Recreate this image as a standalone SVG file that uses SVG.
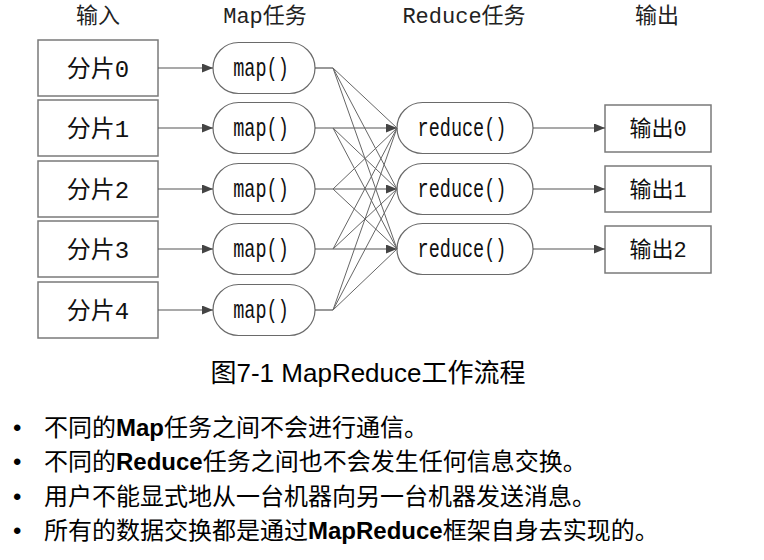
<svg xmlns="http://www.w3.org/2000/svg" width="764" height="560" viewBox="0 0 764 560">
<style>
.box{fill:#fff;stroke:#7a7a7a;stroke-width:1.5}
.pill{fill:#fff;stroke:#6a6a6a;stroke-width:1.2}
.hd{font-family:"Liberation Mono","Noto Sans CJK SC",monospace;font-size:22px;fill:#222;text-anchor:middle}
.lb{font-family:"Liberation Mono","Noto Sans CJK SC",monospace;font-size:24px;fill:#111;text-anchor:middle}
.ob{font-family:"Liberation Mono","Noto Sans CJK SC",monospace;font-size:22px;fill:#111;text-anchor:middle}
.fn{font-family:"Liberation Mono",monospace;font-size:18.5px;fill:#111;text-anchor:middle}
.ln{stroke:#555;stroke-width:1.2;fill:none}
.fan{stroke:#666;stroke-width:1;fill:none}
.cap{font-family:"Liberation Sans","Noto Sans CJK SC",sans-serif;font-size:26px;fill:#000;text-anchor:middle}
.bl{font-family:"Liberation Sans","Noto Sans CJK SC",sans-serif;font-size:24px;fill:#000}
.b{font-weight:bold}
</style>
<defs>
<marker id="ah" markerUnits="userSpaceOnUse" markerWidth="11" markerHeight="9" refX="11" refY="4.5" orient="auto">
<path d="M0,0 L11,4.5 L0,9 z" fill="#444"/>
</marker>
</defs>

<g id="headers">
<text class="hd" x="98" y="23">输入</text>
<text class="hd" x="265" y="23">Map任务</text>
<text class="hd" x="464" y="23">Reduce任务</text>
<text class="hd" x="657" y="23">输出</text>
</g>

<g id="in0"><rect class="box" x="38" y="40" width="120" height="56"/><text class="lb" x="98" y="77">分片0</text></g>
<g id="in1"><rect class="box" x="38" y="100" width="120" height="56"/><text class="lb" x="98" y="137">分片1</text></g>
<g id="in2"><rect class="box" x="38" y="161" width="120" height="56"/><text class="lb" x="98" y="198">分片2</text></g>
<g id="in3"><rect class="box" x="38" y="221" width="120" height="56"/><text class="lb" x="98" y="258">分片3</text></g>
<g id="in4"><rect class="box" x="38" y="282" width="120" height="56"/><text class="lb" x="98" y="319">分片4</text></g>

<g id="map0"><rect class="pill" x="213" y="42.5" width="102" height="51" rx="25.5"/><text class="fn" transform="translate(261,76) scale(1,1.35)">map()</text></g>
<g id="map1"><rect class="pill" x="213" y="102.5" width="102" height="51" rx="25.5"/><text class="fn" transform="translate(261,136) scale(1,1.35)">map()</text></g>
<g id="map2"><rect class="pill" x="213" y="163.5" width="102" height="51" rx="25.5"/><text class="fn" transform="translate(261,197) scale(1,1.35)">map()</text></g>
<g id="map3"><rect class="pill" x="213" y="223.5" width="102" height="51" rx="25.5"/><text class="fn" transform="translate(261,257) scale(1,1.35)">map()</text></g>
<g id="map4"><rect class="pill" x="213" y="284.5" width="102" height="51" rx="25.5"/><text class="fn" transform="translate(261,318) scale(1,1.35)">map()</text></g>

<g id="reduce0"><rect class="pill" x="397" y="102.5" width="136" height="51" rx="25.5"/><text class="fn" transform="translate(462,136) scale(1,1.35)">reduce()</text></g>
<g id="reduce1"><rect class="pill" x="397" y="163.5" width="136" height="51" rx="25.5"/><text class="fn" transform="translate(462,197) scale(1,1.35)">reduce()</text></g>
<g id="reduce2"><rect class="pill" x="397" y="223.5" width="136" height="51" rx="25.5"/><text class="fn" transform="translate(462,257) scale(1,1.35)">reduce()</text></g>

<g id="out0"><rect class="box" x="605" y="105" width="106" height="47"/><text class="ob" x="658" y="136">输出0</text></g>
<g id="out1"><rect class="box" x="605" y="166" width="106" height="46"/><text class="ob" x="658" y="197">输出1</text></g>
<g id="out2"><rect class="box" x="605" y="226" width="106" height="47"/><text class="ob" x="658" y="257">输出2</text></g>

<g id="connectors">
<line class="ln" x1="158" y1="68" x2="213" y2="68" marker-end="url(#ah)"/>
<line class="ln" x1="158" y1="128" x2="213" y2="128" marker-end="url(#ah)"/>
<line class="ln" x1="158" y1="189" x2="213" y2="189" marker-end="url(#ah)"/>
<line class="ln" x1="158" y1="249" x2="213" y2="249" marker-end="url(#ah)"/>
<line class="ln" x1="158" y1="310" x2="213" y2="310" marker-end="url(#ah)"/>

<line class="ln" x1="315" y1="68" x2="333" y2="68"/>
<line class="ln" x1="315" y1="310" x2="333" y2="310"/>
<line class="ln" x1="315" y1="128" x2="397" y2="128" marker-end="url(#ah)"/>
<line class="ln" x1="315" y1="189" x2="397" y2="189" marker-end="url(#ah)"/>
<line class="ln" x1="315" y1="249" x2="397" y2="249" marker-end="url(#ah)"/>

<path class="fan" d="M333,68 L397,128 M333,68 L397,189 M333,68 L397,249
M333,128 L397,189 M333,128 L397,249
M333,189 L397,128 M333,189 L397,249
M333,249 L397,128 M333,249 L397,189
M333,310 L397,128 M333,310 L397,189 M333,310 L397,249"/>

<line class="ln" x1="533" y1="128" x2="605" y2="128" marker-end="url(#ah)"/>
<line class="ln" x1="533" y1="189" x2="605" y2="189" marker-end="url(#ah)"/>
<line class="ln" x1="533" y1="249" x2="605" y2="249" marker-end="url(#ah)"/>
</g>

<text class="cap" x="368" y="382">图7-1 MapReduce工作流程</text>

<g id="bullets">
<text class="bl" x="13" y="436">•</text>
<text class="bl" x="44" y="436">不同的<tspan class="b">Map</tspan>任务之间不会进行通信。</text>
<text class="bl" x="13" y="470">•</text>
<text class="bl" x="44" y="470">不同的<tspan class="b">Reduce</tspan>任务之间也不会发生任何信息交换。</text>
<text class="bl" x="13" y="505">•</text>
<text class="bl" x="44" y="505">用户不能显式地从一台机器向另一台机器发送消息。</text>
<text class="bl" x="13" y="539">•</text>
<text class="bl" x="44" y="539">所有的数据交换都是通过<tspan class="b">MapReduce</tspan>框架自身去实现的。</text>
</g>
</svg>
